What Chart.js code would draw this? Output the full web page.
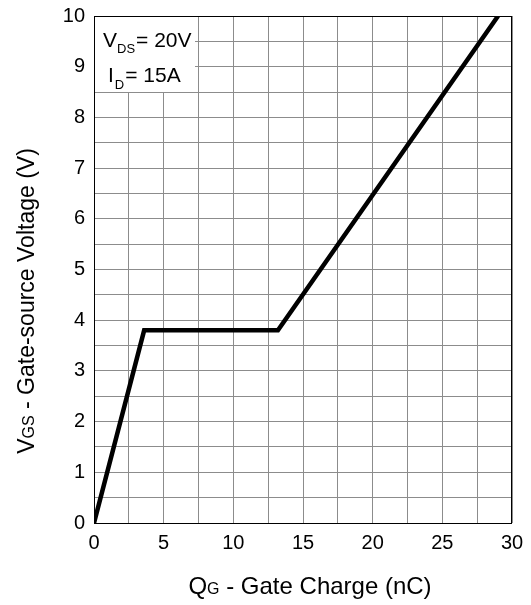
<!DOCTYPE html>
<html><head><meta charset="utf-8">
<script src="https://cdn.jsdelivr.net/npm/chart.js@4/dist/chart.umd.min.js"></script>
<style>html,body{margin:0;padding:0;background:#fff}#wrap{width:531px;height:605px}</style>
</head><body><div id="wrap"><canvas id="c" width="531" height="605"></canvas></div>
<script>
const qg = [0, 3.6, 13.2, 29];
const vgs = [0, 3.8, 3.8, 10];
const xTickLabels = ['0','5','10','15','20','25','30'];
const yTickLabels = ['0','1','2','3','4','5','6','7','8','9','10'];
const FONT = '"Liberation Sans", Arial, sans-serif';

const points = qg.map((x, i) => ({x: x, y: vgs[i]}));

const deco = {
  id: 'deco',
  beforeDatasetsDraw(chart) {
    const ctx = chart.ctx, a = chart.chartArea;
    ctx.save();
    ctx.fillStyle = '#fff';
    ctx.fillRect(a.left + 1, a.top + 1, 100, 75);
    ctx.fillStyle = '#000';
    ctx.textBaseline = 'alphabetic';
    ctx.textAlign = 'left';
    let x = a.left + 9;
    ctx.font = '21px ' + FONT;
    ctx.fillText('V', x, a.top + 31); x += ctx.measureText('V').width;
    ctx.font = '13px ' + FONT;
    ctx.fillText('DS', x, a.top + 37); x += ctx.measureText('DS').width + 1;
    ctx.font = '21px ' + FONT;
    ctx.fillText('= 20V', x, a.top + 31);
    x = a.left + 14;
    ctx.fillText('I', x, a.top + 66); x += ctx.measureText('I').width + 1;
    ctx.font = '13px ' + FONT;
    ctx.fillText('D', x, a.top + 73); x += ctx.measureText('D').width + 1;
    ctx.font = '21px ' + FONT;
    ctx.fillText('= 15A', x, a.top + 66);
    ctx.restore();
  },
  afterDraw(chart) {
    const ctx = chart.ctx, a = chart.chartArea;
    ctx.save();
    ctx.strokeStyle = '#000';
    ctx.lineWidth = 1;
    ctx.strokeRect(a.left + 0.5, a.top + 0.5, a.right - a.left - 1, a.bottom - a.top);
    ctx.fillStyle = '#000';
    ctx.textBaseline = 'alphabetic';
    const big = '24px ' + FONT, small = '16px ' + FONT;
    const parts = [['Q', big], ['G', small], [' - Gate Charge (nC)', big]];
    let w = 0;
    parts.forEach(p => { ctx.font = p[1]; w += ctx.measureText(p[0]).width; });
    let x = 310 - w / 2;
    parts.forEach(p => { ctx.font = p[1]; ctx.fillText(p[0], x, 594); x += ctx.measureText(p[0]).width; });
    const bigY = '23px ' + FONT, smallY = '16px ' + FONT;
    const partsY = [['V', bigY], ['GS', smallY], [' - Gate-source Voltage (V)', bigY]];
    w = 0;
    partsY.forEach(p => { ctx.font = p[1]; w += ctx.measureText(p[0]).width; });
    ctx.translate(34, 301);
    ctx.rotate(-Math.PI / 2);
    x = -w / 2;
    partsY.forEach(p => { ctx.font = p[1]; ctx.fillText(p[0], x, 0); x += ctx.measureText(p[0]).width; });
    ctx.restore();
  }
};

new Chart(document.getElementById('c'), {
  type: 'scatter',
  data: { datasets: [{ data: points, showLine: true, borderColor: '#000', borderWidth: 4.5,
    pointRadius: 0, fill: false, tension: 0, borderJoinStyle: 'miter' }] },
  options: {
    responsive: false, animation: false, devicePixelRatio: 1,
    layout: { padding: { top: 16, right: 19, left: 0, bottom: 0 } },
    plugins: { legend: { display: false }, tooltip: { enabled: false } },
    scales: {
      x: {
        type: 'linear', min: 0, max: 30,
        afterFit: s => { s.height = 82; s.paddingLeft = 0; s.paddingRight = 0; },
        grid: { color: '#8c8c8c', lineWidth: 1, drawTicks: false },
        border: { display: false },
        ticks: { stepSize: 2.5, autoSkip: false, maxRotation: 0, padding: 8, color: '#000',
          font: { family: FONT, size: 20 },
          callback: v => (v % 5 === 0 ? xTickLabels[v / 5] : '') }
      },
      y: {
        type: 'linear', min: 0, max: 10,
        afterFit: s => { s.width = 94; s.paddingTop = 0; s.paddingBottom = 0; },
        grid: { color: '#8c8c8c', lineWidth: 1, drawTicks: false },
        border: { display: false },
        ticks: { stepSize: 0.5, autoSkip: false, padding: 9, color: '#000',
          font: { family: FONT, size: 20 },
          callback: v => (Number.isInteger(v) ? yTickLabels[v] : '') }
      }
    }
  },
  plugins: [deco]
});
</script></body></html>
